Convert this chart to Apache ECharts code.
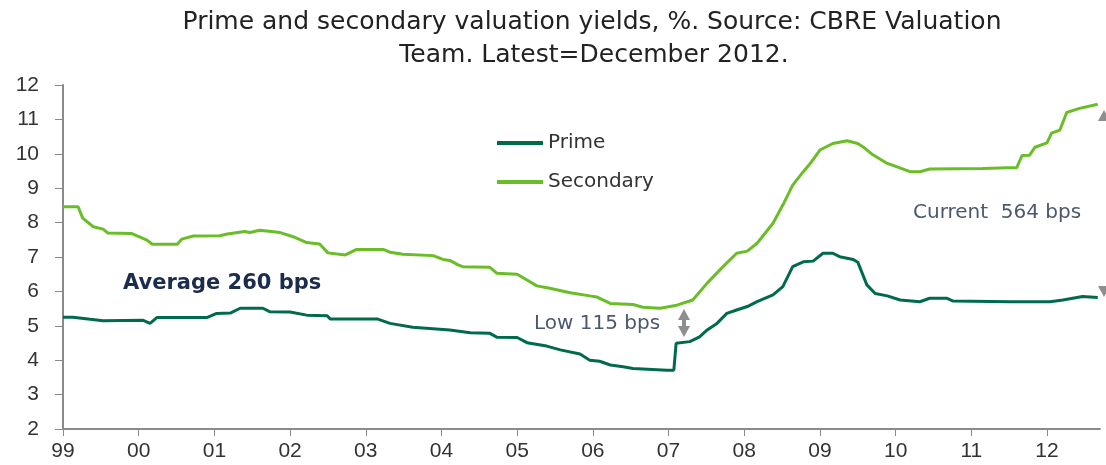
<!DOCTYPE html>
<html>
<head>
<meta charset="utf-8">
<script src="https://cdn.jsdelivr.net/npm/echarts@6/dist/echarts.min.js"></script>
<style>html,body{margin:0;padding:0;background:#fff;overflow:hidden}#c{width:1106px;height:465px}</style>
</head>
<body>
<div id="c"></div>
<script>
// Decimal-year x positions and yield values (%)
const primeX = [1999.00,1999.13,1999.36,1999.53,2000.06,2000.15,2000.24,2000.90,2001.03,2001.21,2001.34,2001.64,2001.73,2002.00,2002.22,2002.49,2002.53,2003.15,2003.32,2003.62,2004.11,2004.38,2004.64,2004.73,2005.00,2005.13,2005.39,2005.57,2005.83,2005.96,2006.09,2006.23,2006.40,2006.53,2006.98,2007.07,2007.10,2007.28,2007.41,2007.51,2007.64,2007.77,2007.90,2008.04,2008.17,2008.38,2008.51,2008.64,2008.78,2008.91,2009.04,2009.17,2009.26,2009.44,2009.50,2009.62,2009.73,2009.89,2010.06,2010.32,2010.45,2010.68,2010.76,2011.51,2012.04,2012.21,2012.47,2012.67];
const primeY = [5.25,5.25,5.19,5.15,5.16,5.07,5.24,5.24,5.36,5.37,5.51,5.51,5.41,5.40,5.31,5.29,5.20,5.20,5.07,4.96,4.88,4.80,4.78,4.67,4.66,4.51,4.41,4.30,4.18,4.00,3.97,3.86,3.81,3.76,3.71,3.71,4.49,4.54,4.68,4.88,5.07,5.36,5.46,5.56,5.70,5.90,6.14,6.72,6.86,6.88,7.11,7.11,7.01,6.93,6.85,6.19,5.94,5.87,5.75,5.70,5.80,5.80,5.72,5.70,5.70,5.75,5.85,5.82];
const secondaryX = [1999.00,1999.20,1999.26,1999.40,1999.53,1999.59,1999.91,2000.11,2000.18,2000.51,2000.57,2000.72,2001.07,2001.17,2001.40,2001.47,2001.60,2001.87,2002.04,2002.22,2002.39,2002.50,2002.73,2002.88,2003.23,2003.32,2003.49,2003.89,2004.02,2004.11,2004.22,2004.28,2004.64,2004.73,2005.00,2005.13,2005.26,2005.43,2005.70,2005.96,2006.05,2006.23,2006.53,2006.66,2006.89,2007.11,2007.32,2007.51,2007.72,2007.90,2008.04,2008.17,2008.38,2008.51,2008.64,2008.78,2008.89,2009.00,2009.17,2009.36,2009.50,2009.57,2009.70,2009.89,2010.02,2010.19,2010.32,2010.45,2011.15,2011.60,2011.67,2011.77,2011.84,2012.00,2012.06,2012.17,2012.26,2012.43,2012.67];
const secondaryY = [8.46,8.46,8.13,7.88,7.81,7.70,7.68,7.49,7.37,7.37,7.52,7.61,7.62,7.67,7.74,7.71,7.78,7.71,7.59,7.42,7.38,7.12,7.06,7.22,7.22,7.14,7.08,7.04,6.93,6.90,6.77,6.72,6.70,6.53,6.50,6.33,6.16,6.09,5.96,5.87,5.84,5.65,5.62,5.54,5.51,5.60,5.75,6.24,6.72,7.11,7.17,7.40,7.98,8.51,9.09,9.48,9.77,10.11,10.30,10.38,10.30,10.20,9.97,9.72,9.62,9.48,9.48,9.56,9.57,9.60,9.95,9.96,10.19,10.32,10.60,10.69,11.20,11.32,11.44];
const tickYears = [1999,2000,2001,2002,2003,2004,2005,2006,2007,2008,2009,2010,2011,2012];
const seriesNames = ['Prime', 'Secondary'];
const titleLines = ['Prime and secondary valuation yields, %. Source: CBRE Valuation', 'Team. Latest=December 2012.'];
const notes = ['Average 260 bps', 'Low 115 bps', 'Current  564 bps'];

const pair = (xs, ys) => xs.map((x, i) => [x, ys[i]]);
const chart = echarts.init(document.getElementById('c'), null, {renderer: 'canvas'});
const axisGrey = '#8a8a8a';
const noteColor = '#4b5870';
const arrowGrey = '#8e8e8e';

chart.setOption({
  animation: false,
  backgroundColor: '#ffffff',
  grid: {left: 63, right: 6, top: 85, bottom: 36, containLabel: false},
  legend: {
    orient: 'vertical', left: 497, top: 133, padding: 0, itemGap: 19,
    icon: 'rect', itemWidth: 46, itemHeight: 4,
    textStyle: {fontFamily: 'DejaVu Sans', fontSize: 20, color: '#333'},
    data: seriesNames
  },
  xAxis: {
    type: 'value', min: 1999, max: 2012.7, interval: 1,
    axisLine: {show: true, lineStyle: {color: axisGrey, width: 2}},
    axisTick: {show: true, length: 7, customValues: tickYears, lineStyle: {color: axisGrey, width: 1}},
    splitLine: {show: false},
    axisLabel: {
      margin: 12, fontFamily: 'Liberation Sans', fontSize: 21, color: '#333',
      customValues: tickYears,
      formatter: v => Number.isInteger(v) ? String(v % 100).padStart(2, '0') : ''
    }
  },
  yAxis: {
    type: 'value', min: 2, max: 12, interval: 1,
    axisLine: {show: true, lineStyle: {color: axisGrey, width: 2}},
    axisTick: {show: true, length: 8, lineStyle: {color: axisGrey, width: 1}},
    splitLine: {show: false},
    axisLabel: {margin: 24, fontFamily: 'Liberation Sans', fontSize: 21, color: '#333'}
  },
  series: [
    {name: seriesNames[0], type: 'line', data: pair(primeX, primeY), showSymbol: false, symbol: 'none',
     lineStyle: {color: '#006a4d', width: 3}, itemStyle: {color: '#006a4d'}},
    {name: seriesNames[1], type: 'line', data: pair(secondaryX, secondaryY), showSymbol: false, symbol: 'none',
     lineStyle: {color: '#69be28', width: 3}, itemStyle: {color: '#69be28'}}
  ],
  graphic: [
    {type: 'text', x: 592, y: 22, style: {text: titleLines[0], font: '25px "DejaVu Sans"', fill: '#222', align: 'center', verticalAlign: 'middle'}},
    {type: 'text', x: 594, y: 55, style: {text: titleLines[1], font: '25px "DejaVu Sans"', fill: '#222', align: 'center', verticalAlign: 'middle'}},
    {type: 'text', x: 123, y: 284, style: {text: notes[0], font: 'bold 21px "DejaVu Sans"', fill: '#1b2d4d', align: 'left', verticalAlign: 'middle'}},
    {type: 'text', x: 534, y: 324, style: {text: notes[1], font: '20px "DejaVu Sans"', fill: noteColor, align: 'left', verticalAlign: 'middle'}},
    {type: 'text', x: 913, y: 213, style: {text: notes[2], font: '20px "DejaVu Sans"', fill: noteColor, align: 'left', verticalAlign: 'middle'}},
    {type: 'polygon', shape: {points: [[684, 309], [678, 320], [690, 320]]}, style: {fill: arrowGrey}},
    {type: 'rect', shape: {x: 682, y: 319, width: 4, height: 8}, style: {fill: arrowGrey}},
    {type: 'polygon', shape: {points: [[678, 326], [690, 326], [684, 337]]}, style: {fill: arrowGrey}},
    {type: 'polygon', shape: {points: [[1104, 110], [1098, 121], [1110, 121]]}, style: {fill: arrowGrey}},
    {type: 'polygon', shape: {points: [[1098, 286], [1110, 286], [1104, 297]]}, style: {fill: arrowGrey}}
  ]
});
</script>
</body>
</html>
